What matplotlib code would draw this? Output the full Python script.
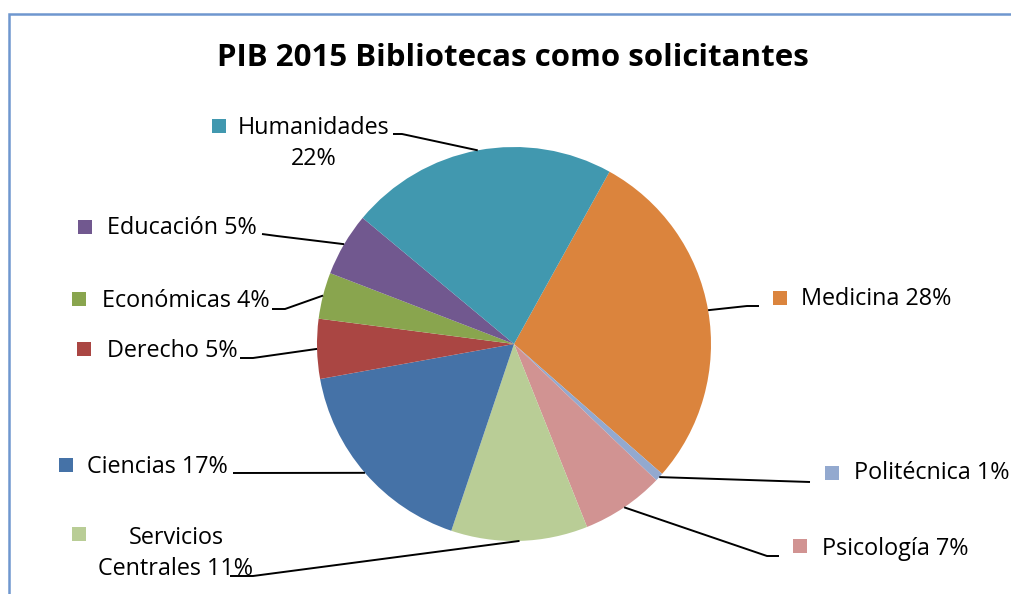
import numpy as np
import matplotlib
matplotlib.use('Agg')
import matplotlib.pyplot as plt
from matplotlib.patches import Rectangle

# %% data (clockwise from Medicina)
labels = ['Medicina', 'Politécnica', 'Psicología', 'Servicios Centrales',
          'Ciencias', 'Derecho', 'Económicas', 'Educación', 'Humanidades']
shares = [28.4, 0.7, 6.8, 11.2, 17.0, 4.9, 3.8, 5.2, 22.0]
pct_text = ['28%', '1%', '7%', '11%', '17%', '5%', '4%', '5%', '22%']
colors = ['#DB843D', '#93A9CF', '#D19392', '#B9CD96', '#4572A7',
          '#AA4643', '#89A54E', '#71588F', '#4198AF']

# %% layout in pixels (y from top)
W, H = 1011, 594
def py(y):
    return H - y

cx, cy, rad = 514, 344, 197
# label text anchor (x, y center), square position, leader bend & end
lab = {
    'Medicina':    dict(x=801, y=299, sq=(773, 291), ln=[(747, 306), (759, 306)]),
    'Politécnica': dict(x=854, y=473, sq=(825, 466), ln=[(810, 482)]),
    'Psicología':  dict(x=822, y=549, sq=(793, 539), ln=[(767, 556), (779, 556)]),
    'Servicios Centrales': dict(x=176, y=538, sq=(72, 527), ln=[(253, 576), (230, 576)],
                                lines=['Servicios', 'Centrales {}']),
    'Ciencias':    dict(x=87, y=467, sq=(59, 458), ln=[(233, 473)]),
    'Derecho':     dict(x=107, y=351, sq=(77, 342), ln=[(253, 358), (240, 358)]),
    'Económicas':  dict(x=102, y=301, sq=(72, 292), ln=[(285, 309), (272, 309)]),
    'Educación':   dict(x=107, y=228, sq=(78, 220), ln=[(277, 236), (262, 234)]),
    'Humanidades': dict(x=314, y=128, sq=(212, 119), ln=[(402, 134), (393, 134)],
                        lines=['Humanidades', '{}']),
}

plt.rcParams['font.family'] = ['Open Sans', 'DejaVu Sans']
fig = plt.figure(figsize=(W / 100, H / 100), dpi=100)
ax = fig.add_axes([0, 0, 1, 1])

wedges, _ = ax.pie(shares, colors=colors, startangle=90 - 29, counterclock=False,
                   center=(cx, py(cy)), radius=rad, wedgeprops=dict(linewidth=0))
ax.set_xlim(0, W)
ax.set_ylim(0, H)
ax.set_aspect('equal')
ax.axis('off')

for w, name, col, pt in zip(wedges, labels, colors, pct_text):
    d = lab[name]
    mid = np.deg2rad((w.theta1 + w.theta2) / 2)
    x0 = cx + rad * np.cos(mid)
    y0 = py(cy) + rad * np.sin(mid)
    xs = [x0] + [p[0] for p in d['ln']]
    ys = [y0] + [py(p[1]) for p in d['ln']]
    ax.plot(xs, ys, color='black', lw=1.4, solid_capstyle='butt', zorder=3)
    sx, sy = d['sq']
    ax.add_patch(Rectangle((sx, py(sy + 14)), 14, 14, facecolor=col, edgecolor='none'))
    if 'lines' in d:
        for i, t in enumerate(d['lines']):
            ax.text(d['x'], py(d['y'] + i * 31), t.format(pt), ha='center', va='center',
                    fontsize=16.8, color='black')
    else:
        ax.text(d['x'], py(d['y']), name + ' ' + pt, ha='left', va='center',
                fontsize=16.8, color='black')

ax.text(513, py(58), 'PIB 2015 Bibliotecas como solicitantes', ha='center', va='center',
        fontsize=22.5, fontweight='bold', color='black')

# chart border
ax.add_patch(Rectangle((9, -10), W + 20, py(14) + 10, fill=False,
                       edgecolor='#6F97CF', lw=1.8, clip_on=False))

fig.savefig('out.png', dpi=100)
